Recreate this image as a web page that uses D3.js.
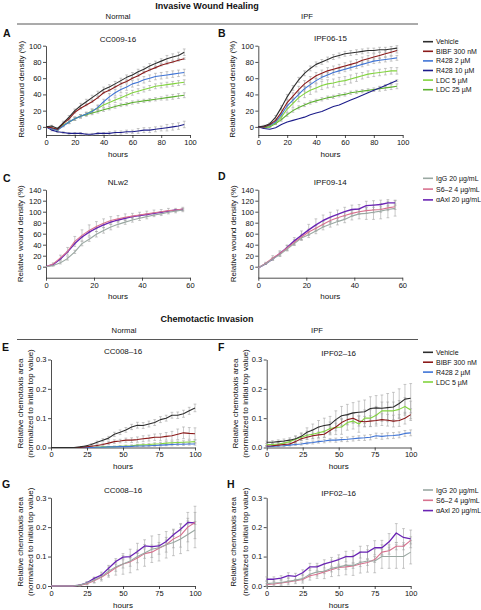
<!DOCTYPE html>
<html><head><meta charset="utf-8">
<script src="https://cdn.jsdelivr.net/npm/d3@7"></script>
<style>body{margin:0;background:#fff} svg{display:block}</style>
</head><body><svg id="c" width="481" height="610"></svg>
<script>
// ---------------- DATA ----------------
const hoursAB = [0,4,8,12,16,20,24,28,32,36,40,44,48,52,56,60,64,68,72,76,80,84,88,92,96];
const hoursCD = [0,3,6,9,12,15,18,21,24,27,30,33,36,39,42,45,48,51,54,57];
const hoursEF = [0,4,8,12,16,20,24,28,32,36,40,44,48,52,56,60,64,68,72,76,80,84,88,92,96,100];
const hoursGH = [0,5,10,15,20,25,30,35,40,45,50,55,60,65,70,75,80,85,90,95,100];

const drugLabels = ["Vehicle","BIBF 300 nM","R428 2 µM","R428 10 µM","LDC 5 µM","LDC 25 µM"];
const chemoLabels = ["Vehicle","BIBF 300 nM","R428 2 µM","LDC 5 µM"];
const abLabels = ["IgG 20 µg/mL","S6–2 4 µg/mL","αAxl 20 µg/mL"];

const ticksAB_x = [0,20,40,60,80,100];
const ticksAB_y = [0,20,40,60,80,100];
const ticksCD_x = [0,20,40,60];
const ticksCD_y = [0,20,40,60,80,100,120,140];
const ticksEH_x = [0,25,50,75,100];
const ticksEH_y = [0,0.1,0.2,0.3];

// Panel A  CC009-16
const aVehicle = [0,1,-2,5,12,20,26,31,36,41,46,49,53,57,61,64,68,71,75,78,81,84,86,88,92];
const aBIBF    = [0,-1,-3,4,10,18,23,27,31,36,42,45,49,53,56,60,63,67,70,73,76,78,80,82,84];
const aR2      = [0,-2,-4,1,6,10,13,16,19,24,31,37,42,46,49,53,55,58,60,62,63,64,65,66,67];
const aR10     = [0,-4,-6,-7,-8,-8,-8,-9,-9,-8,-8,-8,-7,-7,-6,-6,-5,-4,-4,-3,-2,-1,0,1,3];
const aLDC5    = [0,-2,-4,2,6,10,13,16,20,23,27,30,33,36,39,42,44,46,48,50,51,52,53,54,55];
const aLDC25   = [0,-2,-3,2,6,10,13,15,17,19,21,23,25,27,28,30,31,32,33,34,35,36,37,38,39];
const aVehicleErr = [0,1,1,2,2,2,3,3,3,3,3,3,3,3,3,3,3,3,3,3,3,4,4,4,4];
const aBIBFErr    = [0,1,1,1,1,1,1,1,1,1,1,1,1,1,1,1,1,1,1,1,1,1,1,1,1];
const aR2Err      = [0,1,1,1,2,2,2,2,3,3,3,4,4,4,4,4,4,4,4,4,4,4,4,4,4];
const aR10Err     = [0,1,1,1,1,1,1,1,1,1,1,2,2,2,2,2,3,3,3,3,3,4,4,4,4];
const aLDC5Err    = [0,1,1,1,2,2,2,2,2,3,3,3,3,3,3,3,3,3,3,3,3,3,3,3,3];
const aLDC25Err   = [0,1,1,1,1,2,2,2,2,2,2,2,2,2,2,2,2,2,2,2,2,3,3,3,3];

// Panel B  IPF06-15
const bVehicle = [0,1,4,12,24,37,48,58,66,72,77,80,83,86,88,90,91,92,93,94,94,95,95,96,97];
const bBIBF    = [0,0,3,8,18,30,38,46,53,58,63,66,69,71,73,75,77,79,82,84,86,88,90,92,94];
const bR2      = [0,0,2,6,15,26,33,40,47,52,57,61,64,67,69,71,73,75,77,79,81,82,83,84,85];
const bR10     = [0,-2,-3,-1,3,6,8,10,12,15,17,19,22,25,27,30,33,36,39,42,45,48,51,54,57];
const bLDC5    = [0,0,1,5,12,22,29,36,41,45,48,51,53,54,56,57,59,61,63,65,66,67,68,69,69];
const bLDC25   = [0,-1,0,4,9,15,20,24,27,30,32,34,36,37,39,40,42,43,44,45,46,47,48,49,50];
const bVehicleErr = [0,1,1,2,2,3,3,3,3,3,3,3,3,3,3,3,3,3,3,3,3,3,3,3,3];
const bBIBFErr    = [0,1,1,2,3,3,4,4,4,4,4,4,4,4,4,4,4,4,4,4,4,4,4,4,3];
const bR2Err      = [0,1,1,2,2,3,3,3,3,3,3,3,3,3,3,3,3,3,3,3,3,3,3,3,3];
const bR10Err     = [0,0,0,0,0,0,0,0,0,0,0,0,0,0,0,0,0,0,0,0,1,1,1,1,1];
const bLDC5Err    = [0,1,1,2,3,4,5,5,5,5,5,5,5,5,5,5,5,5,4,4,4,4,4,4,4];
const bLDC25Err   = [0,1,1,1,2,2,2,2,2,2,2,2,2,2,2,2,2,2,2,2,2,3,3,3,3];

// Panel C  NLw2
const cIgG = [0,2,7,15,27,42,50,59,66,72,77,81,85,88,91,94,96,99,101,103];
const cS62 = [0,5,16,28,46,57,66,73,79,84,87,90,92,94,96,98,100,102,103,105];
const cAxl = [0,4,14,27,42,54,63,70,76,81,85,88,91,93,95,97,99,101,103,104];
const cIgGErr = [0,1,2,3,3,4,4,5,5,5,5,4,4,4,4,3,3,3,3,3];
const cS62Err = [0,2,5,7,9,10,10,9,8,7,6,6,5,5,5,5,4,4,3,3];
const cAxlErr = [0,1,1,1,1,1,1,1,1,1,1,1,1,1,1,1,1,1,1,1];

// Panel D  IPF09-14
const dIgG = [-2,5,14,22,32,42,52,58,65,72,77,82,86,92,96,97,99,101,104,106];
const dS62 = [-2,6,16,24,34,44,54,63,70,77,84,89,93,97,100,102,103,104,107,109];
const dAxl = [-2,5,14,24,35,47,57,67,76,84,90,95,100,104,105,111,112,113,116,116];
const dIgGErr = [0,1,2,3,3,3,4,5,5,5,5,6,6,7,9,11,13,14,15,14];
const dS62Err = [0,2,4,5,5,5,5,5,5,5,5,5,5,5,5,5,5,5,5,5];
const dAxlErr = [0,1,2,3,4,6,8,10,11,10,9,8,8,8,8,8,8,8,6,5];

// Panel E  CC008–16
const eVehicle = [0,0,0,0,0,0.002,0.005,0.01,0.018,0.025,0.032,0.045,0.052,0.06,0.07,0.076,0.075,0.08,0.085,0.095,0.1,0.11,0.11,0.115,0.125,0.135];
const eBIBF    = [0,0,0,0,0,0,0.002,0.004,0.007,0.01,0.015,0.02,0.022,0.025,0.025,0.027,0.03,0.032,0.035,0.035,0.038,0.04,0.045,0.05,0.048,0.047];
const eR2      = [0,0,0,0,0,0,0,0,0.001,0.001,0.002,0.002,0.003,0.003,0.004,0.005,0.005,0.006,0.007,0.008,0.009,0.01,0.011,0.011,0.012,0.012];
const eLDC5    = [0,0,0,0,0,0,0,0.001,0.001,0.002,0.002,0.003,0.004,0.005,0.006,0.008,0.009,0.01,0.012,0.013,0.015,0.016,0.017,0.018,0.019,0.02];
const eVehicleErr = [0,0,0,0,0,0.001,0.002,0.003,0.004,0.005,0.006,0.007,0.008,0.008,0.009,0.01,0.01,0.01,0.01,0.01,0.01,0.01,0.011,0.012,0.012,0.013];
const eBIBFErr    = [0,0,0,0,0,0,0.001,0.002,0.003,0.004,0.005,0.006,0.006,0.007,0.008,0.009,0.01,0.01,0.011,0.012,0.013,0.015,0.018,0.02,0.02,0.02];
const eR2Err      = [0,0,0,0,0,0,0,0,0.001,0.001,0.001,0.002,0.002,0.002,0.002,0.003,0.003,0.003,0.003,0.003,0.003,0.004,0.004,0.004,0.004,0.004];
const eLDC5Err    = [0,0,0,0,0,0,0,0.001,0.001,0.001,0.002,0.002,0.002,0.003,0.003,0.003,0.004,0.004,0.004,0.004,0.005,0.005,0.005,0.005,0.005,0.005];

// Panel F  IPF02–16
const fVehicle = [0.018,0.018,0.02,0.022,0.025,0.03,0.038,0.052,0.06,0.07,0.075,0.078,0.095,0.108,0.112,0.118,0.12,0.122,0.133,0.135,0.134,0.136,0.138,0.15,0.165,0.168];
const fBIBF    = [0.005,0.006,0.008,0.01,0.012,0.02,0.03,0.035,0.04,0.043,0.045,0.058,0.07,0.085,0.095,0.1,0.09,0.088,0.09,0.092,0.095,0.093,0.09,0.092,0.1,0.112];
const fR2      = [0.003,0.004,0.005,0.006,0.008,0.01,0.012,0.015,0.017,0.02,0.022,0.025,0.025,0.027,0.028,0.03,0.032,0.033,0.035,0.04,0.038,0.04,0.041,0.043,0.048,0.05];
const fLDC5    = [0.01,0.01,0.012,0.015,0.02,0.028,0.035,0.042,0.045,0.05,0.055,0.065,0.068,0.07,0.085,0.09,0.08,0.1,0.1,0.11,0.125,0.125,0.125,0.13,0.14,0.128];
const fVehicleErr = [0.004,0.005,0.006,0.007,0.008,0.01,0.012,0.015,0.02,0.022,0.025,0.028,0.03,0.032,0.035,0.035,0.038,0.04,0.04,0.042,0.045,0.048,0.05,0.05,0.05,0.05];
const fBIBFErr    = [0.002,0.002,0.003,0.003,0.004,0.005,0.006,0.008,0.009,0.01,0.011,0.012,0.013,0.014,0.015,0.016,0.017,0.018,0.018,0.019,0.02,0.02,0.02,0.02,0.02,0.02];
const fR2Err      = [0.002,0.002,0.002,0.003,0.003,0.003,0.004,0.004,0.005,0.005,0.006,0.006,0.007,0.007,0.008,0.008,0.008,0.009,0.009,0.009,0.01,0.01,0.01,0.01,0.01,0.01];
const fLDC5Err    = [0.003,0.004,0.005,0.006,0.008,0.01,0.012,0.014,0.016,0.018,0.02,0.022,0.024,0.025,0.026,0.027,0.028,0.028,0.029,0.03,0.03,0.03,0.03,0.03,0.03,0.03];

// Panel G  CC008–16
const gIgG = [0,0,0,0,0.003,0.01,0.02,0.032,0.05,0.065,0.075,0.085,0.1,0.112,0.125,0.13,0.14,0.148,0.16,0.175,0.19];
const gS62 = [0,0,0,0,0.002,0.008,0.018,0.03,0.045,0.062,0.075,0.082,0.095,0.11,0.115,0.128,0.14,0.16,0.172,0.2,0.216];
const gAxl = [0,0,0,0,0.003,0.011,0.026,0.037,0.06,0.083,0.098,0.1,0.117,0.136,0.134,0.136,0.151,0.174,0.193,0.216,0.214];
const gIgGErr = [0,0,0,0,0.002,0.005,0.01,0.015,0.02,0.028,0.035,0.04,0.045,0.045,0.045,0.045,0.045,0.045,0.05,0.055,0.06];
const gS62Err = [0,0,0,0,0.002,0.004,0.006,0.008,0.01,0.012,0.014,0.015,0.016,0.016,0.018,0.02,0.025,0.03,0.04,0.05,0.055];
const gAxlErr = [0,0,0,0,0.001,0.002,0.003,0.003,0.004,0.004,0.005,0.005,0.005,0.005,0.005,0.005,0.005,0.005,0.005,0.005,0.005];

// Panel H  IPF02–16
const hIgG = [0.008,0.01,0.012,0.016,0.02,0.025,0.04,0.048,0.05,0.06,0.065,0.07,0.07,0.08,0.085,0.085,0.1,0.1,0.1,0.1,0.115];
const hS62 = [0.005,0.007,0.01,0.014,0.018,0.022,0.035,0.04,0.048,0.055,0.063,0.065,0.068,0.075,0.08,0.09,0.115,0.12,0.135,0.135,0.155];
const hAxl = [0.023,0.023,0.027,0.035,0.033,0.045,0.065,0.065,0.075,0.082,0.09,0.1,0.1,0.115,0.115,0.13,0.13,0.15,0.18,0.165,0.16];
const hIgGErr = [0.01,0.01,0.01,0.012,0.012,0.015,0.02,0.022,0.025,0.028,0.03,0.032,0.034,0.036,0.038,0.04,0.04,0.04,0.04,0.04,0.04];
const hS62Err = [0.003,0.003,0.003,0.004,0.004,0.005,0.005,0.006,0.006,0.007,0.007,0.008,0.008,0.009,0.01,0.01,0.01,0.012,0.012,0.012,0.012];
const hAxlErr = [0.008,0.008,0.008,0.01,0.01,0.01,0.012,0.012,0.014,0.015,0.016,0.018,0.02,0.02,0.022,0.024,0.025,0.028,0.032,0.03,0.03];

// ---------------- STYLE ----------------
const FONT = "'Liberation Sans', Arial, Helvetica, sans-serif";
const COL = {
  vehicle:"#2e2e2e", bibf:"#8b1a1a", r2:"#3f74d6", r10:"#1c1c8a", ldc5:"#82d43e", ldc25:"#5cb030",
  igg:"#9aa8a2", s62:"#d8728f", axl:"#6a24b4", err:"#a4a4a4"
};

const svg = d3.select("#c");
svg.append("rect").attr("width",481).attr("height",610).attr("fill","#fff");

function txt(x,y,s,opt={}) {
  return svg.append("text").attr("x",x).attr("y",y).text(s)
    .attr("font-family",FONT).attr("font-size",opt.size||8)
    .attr("font-weight",opt.bold?"bold":"normal")
    .attr("text-anchor",opt.anchor||"middle")
    .attr("dominant-baseline","central").attr("fill","#111");
}

// Section headers
function header(y, title, lineY, nx, ipx, ly) {
  txt(207, y, title, {size:9, bold:true});
  svg.append("line").attr("x1",17).attr("x2",418).attr("y1",lineY).attr("y2",lineY)
    .attr("stroke","#444").attr("stroke-width",0.9);
  txt(nx, ly, "Normal", {size:7.7});
  txt(ipx, ly, "IPF", {size:7.7});
}
header(6, "Invasive Wound Healing", 24, 118, 307, 16.5);
header(318.5, "Chemotactic Invasion", 339.5, 124, 317, 330.5);

function panel(p) {
  const g = svg.append("g");
  const x = d3.scaleLinear().domain(p.xDomain).range([p.x0, p.x1]);
  const y = d3.scaleLinear().domain(p.yDomain).range([p.yB, p.yT]);

  const xa = d3.axisBottom(x).tickValues(p.xTicks).tickSize(3).tickSizeOuter(0).tickPadding(1.5);
  const ya = d3.axisLeft(y).tickValues(p.yTicks).tickSize(3).tickSizeOuter(0).tickPadding(1.5).tickFormat(p.yFmt);
  const gx = g.append("g").attr("transform",`translate(0,${p.yB})`).call(xa);
  const gy = g.append("g").attr("transform",`translate(${p.x0},0)`).call(ya);
  [gx,gy].forEach(a=>{
    a.attr("font-family",FONT).attr("font-size",7.5);
    a.selectAll("text").attr("fill","#111");
    a.selectAll("line,path").attr("stroke","#222").attr("stroke-width",0.8);
  });

  // error bars
  p.series.forEach(s=>{
    const eg = g.append("g").attr("stroke",COL.err).attr("stroke-width",0.6).attr("fill","none");
    s.v.forEach((v,i)=>{
      const e = s.e[i]; if(!e) return;
      const xx = x(p.hours[i]);
      eg.append("line").attr("x1",xx).attr("x2",xx).attr("y1",y(v-e)).attr("y2",y(v+e));
      eg.append("line").attr("x1",xx-1.4).attr("x2",xx+1.4).attr("y1",y(v+e)).attr("y2",y(v+e));
      eg.append("line").attr("x1",xx-1.4).attr("x2",xx+1.4).attr("y1",y(v-e)).attr("y2",y(v-e));
    });
  });
  // lines
  const line = d3.line().x((d,i)=>x(p.hours[i])).y(d=>y(d));
  p.series.slice().reverse().forEach(s=>{
    g.append("path").datum(s.v).attr("d",line).attr("fill","none")
      .attr("stroke",s.c).attr("stroke-width",s.w||1.1).attr("stroke-linejoin","round");
  });

  // title, letter, labels
  txt((p.x0+p.x1)/2, p.titleY, p.title, {size:8});
  txt(p.lx, p.ly, p.letter, {size:10.5, bold:true, anchor:"start"});
  const cy = (p.yB+p.yT)/2 + (p.ylabOff||0);
  p.ylab.forEach((l,k)=>{
    svg.append("text").attr("transform",`translate(${p.yx[k]},${cy}) rotate(-90)`)
      .text(l).attr("font-family",FONT).attr("font-size",8).attr("text-anchor","middle")
      .attr("dominant-baseline","central").attr("fill","#111");
  });
  txt((p.x0+p.x1)/2, p.yB+19, "hours", {size:8});
}

function legend(x, y0, dy, labels, colors) {
  labels.forEach((l,i)=>{
    const yy = y0 + i*dy;
    svg.append("line").attr("x1",x).attr("x2",x+10).attr("y1",yy).attr("y2",yy)
      .attr("stroke",colors[i]).attr("stroke-width",1.6);
    txt(x+13, yy, l, {size:7, anchor:"start"});
  });
}

const fInt = d3.format("d");
const f1 = d3.format(".1f");
const woundLab = ["Relative wound density (%)"];
const chemoLab = ["Relative chemotaxis area","(normalized to initial top value)"];

panel({x0:46,x1:190,yB:135,yT:45.7,xDomain:[0,100],yDomain:[-10,100],xTicks:ticksAB_x,yTicks:ticksAB_y,yFmt:fInt,
  hours:hoursAB,title:"CC009-16",titleY:39.5,letter:"A",lx:3,ly:33,ylab:woundLab,yx:[21],ylabOff:-1,
  series:[{v:aVehicle,e:aVehicleErr,c:COL.vehicle},{v:aBIBF,e:aBIBFErr,c:COL.bibf},{v:aR2,e:aR2Err,c:COL.r2},
          {v:aR10,e:aR10Err,c:COL.r10},{v:aLDC5,e:aLDC5Err,c:COL.ldc5},{v:aLDC25,e:aLDC25Err,c:COL.ldc25}]});
panel({x0:258.3,x1:402.7,yB:135,yT:45.7,xDomain:[0,100],yDomain:[-10,100],xTicks:ticksAB_x,yTicks:ticksAB_y,yFmt:fInt,
  hours:hoursAB,title:"IPF06-15",titleY:38.5,letter:"B",lx:218,ly:33,ylab:woundLab,yx:[232],ylabOff:-1,
  series:[{v:bVehicle,e:bVehicleErr,c:COL.vehicle},{v:bBIBF,e:bBIBFErr,c:COL.bibf},{v:bR2,e:bR2Err,c:COL.r2},
          {v:bR10,e:bR10Err,c:COL.r10},{v:bLDC5,e:bLDC5Err,c:COL.ldc5},{v:bLDC25,e:bLDC25Err,c:COL.ldc25}]});
legend(423, 41.7, 9.6, drugLabels, [COL.vehicle,COL.bibf,COL.r2,COL.r10,COL.ldc5,COL.ldc25]);

panel({x0:46,x1:190,yB:277.7,yT:189.7,xDomain:[0,60],yDomain:[-20,140],xTicks:ticksCD_x,yTicks:ticksCD_y,yFmt:fInt,
  hours:hoursCD,title:"NLw2",titleY:182.7,letter:"C",lx:3,ly:178,ylab:woundLab,yx:[20],
  series:[{v:cIgG,e:cIgGErr,c:COL.igg},{v:cS62,e:cS62Err,c:COL.s62},{v:cAxl,e:cAxlErr,c:COL.axl,w:1.4}]});
panel({x0:258.3,x1:402.3,yB:277.7,yT:189.7,xDomain:[0,60],yDomain:[-20,140],xTicks:ticksCD_x,yTicks:ticksCD_y,yFmt:fInt,
  hours:hoursCD,title:"IPF09-14",titleY:182.7,letter:"D",lx:218,ly:176,ylab:woundLab,yx:[233],
  series:[{v:dIgG,e:dIgGErr,c:COL.igg},{v:dS62,e:dS62Err,c:COL.s62},{v:dAxl,e:dAxlErr,c:COL.axl,w:1.4}]});
legend(423, 178.3, 10.8, abLabels, [COL.igg,COL.s62,COL.axl]);

panel({x0:51,x1:195,yB:447.5,yT:359.5,xDomain:[0,100],yDomain:[0,0.3],xTicks:ticksEH_x,yTicks:ticksEH_y,yFmt:f1,
  hours:hoursEF,title:"CC008–16",titleY:351.7,letter:"E",lx:2,ly:347,ylab:chemoLab,yx:[20,30],
  series:[{v:eVehicle,e:eVehicleErr,c:COL.vehicle},{v:eBIBF,e:eBIBFErr,c:COL.bibf},{v:eR2,e:eR2Err,c:COL.r2},{v:eLDC5,e:eLDC5Err,c:COL.ldc5}]});
panel({x0:266.7,x1:410.7,yB:447.5,yT:359.5,xDomain:[0,100],yDomain:[0,0.3],xTicks:ticksEH_x,yTicks:ticksEH_y,yFmt:f1,
  hours:hoursEF,title:"IPF02–16",titleY:353,letter:"F",lx:218,ly:347,ylab:chemoLab,yx:[235,245],
  series:[{v:fVehicle,e:fVehicleErr,c:COL.vehicle},{v:fBIBF,e:fBIBFErr,c:COL.bibf},{v:fR2,e:fR2Err,c:COL.r2},{v:fLDC5,e:fLDC5Err,c:COL.ldc5}]});
legend(423, 352.3, 9.9, chemoLabels, [COL.vehicle,COL.bibf,COL.r2,COL.ldc5]);

panel({x0:51,x1:195,yB:586,yT:497.7,xDomain:[0,100],yDomain:[0,0.3],xTicks:ticksEH_x,yTicks:ticksEH_y,yFmt:f1,
  hours:hoursGH,title:"CC008–16",titleY:490,letter:"G",lx:2,ly:483.5,ylab:chemoLab,yx:[20,30],
  series:[{v:gIgG,e:gIgGErr,c:COL.igg},{v:gS62,e:gS62Err,c:COL.s62},{v:gAxl,e:gAxlErr,c:COL.axl,w:1.3}]});
panel({x0:266.7,x1:410.7,yB:586,yT:497.7,xDomain:[0,100],yDomain:[0,0.3],xTicks:ticksEH_x,yTicks:ticksEH_y,yFmt:f1,
  hours:hoursGH,title:"IPF02–16",titleY:493,letter:"H",lx:227,ly:483.5,ylab:chemoLab,yx:[233,245],
  series:[{v:hIgG,e:hIgGErr,c:COL.igg},{v:hS62,e:hS62Err,c:COL.s62},{v:hAxl,e:hAxlErr,c:COL.axl,w:1.3}]});
legend(423, 490, 10.3, abLabels, [COL.igg,COL.s62,COL.axl]);
</script></body></html>
